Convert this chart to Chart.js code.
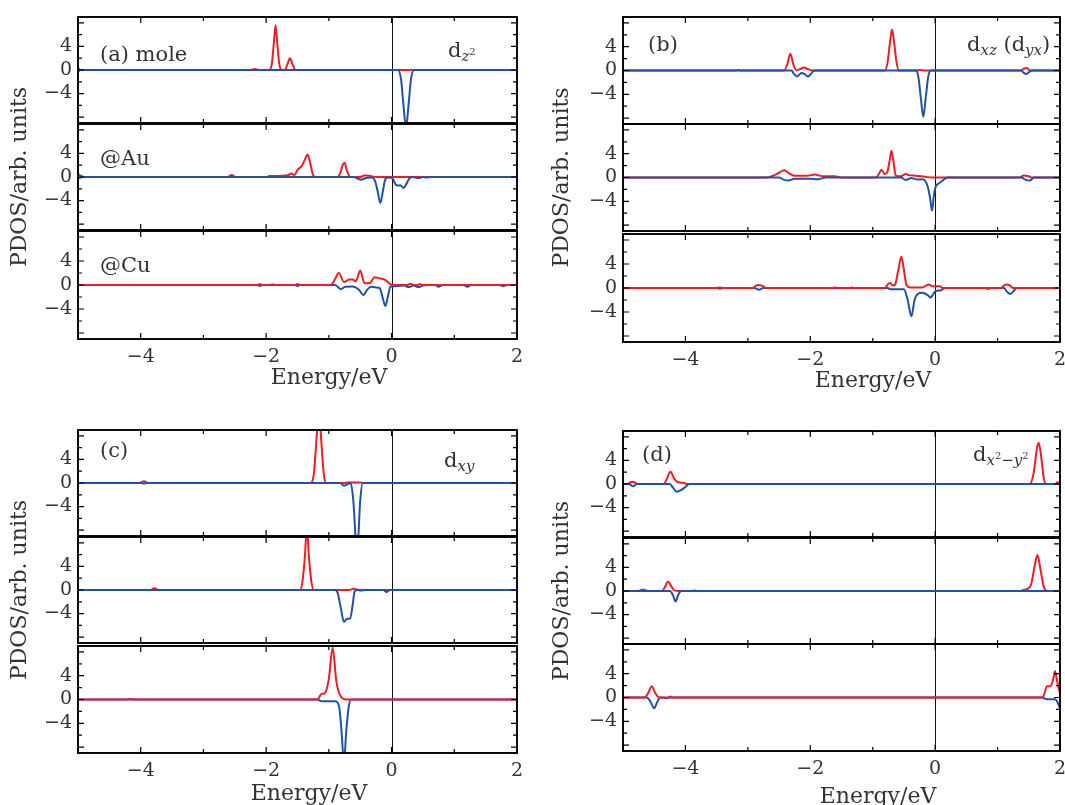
<!DOCTYPE html>
<html>
<head>
<meta charset="utf-8">
<title>PDOS</title>
<script src="https://cdn.jsdelivr.net/npm/chart.js@4.4.1/dist/chart.umd.min.js"></script>
<style>
  body { margin: 0; width: 1065px; height: 805px; overflow: hidden; background: #fff; position: relative; }
  canvas { position: absolute; }
</style>
</head>
<body>
<script>
const energyTicks = [-4, -2, 0, 2];
const pdosTicks = [-4, 0, 4];
const panelTags = ['(a) mole', '(b)', '(c)', '(d)'];
const siteLabels = ['', '@Au', '@Cu'];
// orbital names as [text, style] pieces: r roman, s italic subscript, sr roman subscript, ss superscript in subscript
const orbitalLabels = [
  [['d', 'r'], ['z', 's'], ['2', 'ss']],
  [['d', 'r'], ['xz', 's'], [' (d', 'r'], ['yx', 's'], [')', 'r']],
  [['d', 'r'], ['xy', 's']],
  [['d', 'r'], ['x', 's'], ['2', 'ss'], ['\u2212', 'sr'], ['y', 's'], ['2', 'ss']]
];

// [energy eV, PDOS]; Up = red, Dn = blue
// (a) d_z2
const aMoleUp = [[-5,0.4],[-4.96,0],[-2.25,0],[-2.18,0.15],[-2.12,0],[-1.95,0],[-1.91,1.0],[-1.88,4.2],[-1.85,7.6],[-1.82,4.2],[-1.79,1.0],[-1.75,0],[-1.70,0],[-1.66,1.0],[-1.62,2.0],[-1.58,1.0],[-1.53,0],[2,0]];
const aMoleDn = [[-5,-0.3],[-4.96,0],[0.10,0],[0.15,-1.5],[0.19,-6],[0.23,-9.8],[0.27,-6],[0.31,-1.5],[0.36,0],[2,0]];
const aAuUp = [[-5,0.5],[-4.95,0.2],[-4.9,0],[-2.62,0],[-2.55,0.35],[-2.48,0],[-2.0,0],[-1.95,0.15],[-1.75,0.2],[-1.65,0.3],[-1.6,0.6],[-1.55,0.3],[-1.5,1.2],[-1.43,1.9],[-1.38,3.0],[-1.34,3.8],[-1.30,2.5],[-1.25,0.3],[-1.2,0],[-0.86,0],[-0.82,0.6],[-0.78,2.0],[-0.75,2.4],[-0.71,1.0],[-0.66,0],[-0.5,0],[-0.43,0.25],[-0.35,0.2],[-0.25,0],[2,0]];
const aAuDn = [[-5,-0.2],[-4.92,0],[-0.6,0],[-0.54,-0.3],[-0.48,-0.45],[-0.42,-0.2],[-0.32,-0.1],[-0.27,-0.5],[-0.22,-2.5],[-0.18,-4.4],[-0.14,-2.5],[-0.10,-0.4],[-0.05,-0.1],[0.02,-0.3],[0.06,-1.2],[0.1,-1.45],[0.14,-1.4],[0.19,-1.85],[0.23,-1.3],[0.28,-0.3],[0.33,0],[0.43,-0.2],[0.5,0],[0.56,-0.1],[0.62,0],[2,0]];
const aCuUp = [[-5,0],[-2.15,0],[-2.1,0.15],[-2.05,0],[-1.95,0],[-1.9,0.1],[-1.85,0],[-1.55,0],[-1.5,0.15],[-1.45,0],[-0.97,0],[-0.92,0.6],[-0.84,2.0],[-0.76,0.5],[-0.67,0.9],[-0.62,0.9],[-0.57,0.6],[-0.50,2.4],[-0.43,0.3],[-0.35,0.3],[-0.27,1.3],[-0.19,1.1],[-0.11,0.9],[-0.05,0.4],[0,0],[0.25,0],[0.3,0.2],[0.35,0],[0.42,0],[0.45,0.15],[0.5,0],[2,0]];
const aCuDn = [[-5,0],[-2.15,0],[-2.1,-0.15],[-2.05,0],[-1.55,0],[-1.5,-0.15],[-1.45,0],[-0.9,0],[-0.85,-0.4],[-0.81,-0.7],[-0.74,-0.3],[-0.62,-0.25],[-0.52,-0.8],[-0.45,-1.7],[-0.39,-0.8],[-0.33,-0.3],[-0.25,-0.4],[-0.19,-0.5],[-0.14,-2.2],[-0.10,-3.5],[-0.06,-2.0],[-0.02,-0.3],[0.03,-0.2],[0.2,-0.1],[0.27,-0.35],[0.35,-0.1],[0.43,-0.35],[0.5,-0.1],[0.6,0],[0.7,0],[0.75,-0.3],[0.82,0],[1.15,0],[1.21,-0.3],[1.27,0],[1.72,0],[1.78,-0.2],[1.84,0],[2,0]];
// (b) d_xz (d_yx)
const bMoleUp = [[-5,0],[-3.2,0],[-3.15,0.1],[-3.1,0],[-2.42,0],[-2.37,1.0],[-2.32,2.8],[-2.27,1.0],[-2.22,0],[-2.15,0.3],[-2.1,0.5],[-2.05,0.3],[-1.98,0],[-0.80,0],[-0.76,1.5],[-0.72,5.0],[-0.69,6.9],[-0.66,5.0],[-0.62,1.5],[-0.58,0],[-0.3,0],[-0.25,0.1],[-0.15,0],[1.38,0],[1.42,0.3],[1.47,0.4],[1.52,0],[2,0]];
const bMoleDn = [[-5,0],[-2.3,0],[-2.26,-0.6],[-2.21,-1.0],[-2.14,-0.4],[-2.09,-0.6],[-2.04,-1.0],[-1.99,-0.6],[-1.94,0],[-0.30,0],[-0.27,-1.0],[-0.23,-4.5],[-0.19,-7.8],[-0.15,-4.5],[-0.11,-1.0],[-0.07,0],[1.38,0],[1.42,-0.4],[1.46,-0.6],[1.5,-0.3],[1.55,0],[2,0]];
const bAuUp = [[-5,0],[-2.7,0],[-2.6,0.3],[-2.5,0.8],[-2.42,1.2],[-2.34,0.7],[-2.26,0.3],[-2.05,0.3],[-1.93,0.5],[-1.8,0.2],[-1.61,0.2],[-1.5,0],[-0.95,0],[-0.9,0.6],[-0.86,1.3],[-0.81,0.6],[-0.77,0.8],[-0.73,2.8],[-0.70,4.5],[-0.67,2.8],[-0.63,0.3],[-0.55,0.2],[-0.47,0.6],[-0.42,0.4],[-0.31,0.3],[-0.15,0.1],[-0.05,0],[1.35,0],[1.42,0.35],[1.5,0.2],[1.55,0],[2,0]];
const bAuDn = [[-5,0],[-2.5,0],[-2.42,-0.4],[-2.35,-0.5],[-2.25,-0.2],[-2.0,-0.2],[-1.88,-0.3],[-1.75,0],[-0.55,0],[-0.47,-0.4],[-0.38,-0.1],[-0.28,-0.35],[-0.2,-0.3],[-0.12,-1.5],[-0.08,-3.5],[-0.05,-5.6],[-0.02,-3.0],[0.01,-1.5],[0.06,-1.0],[0.12,-0.5],[0.2,0],[1.38,0],[1.45,-0.4],[1.52,-0.5],[1.58,0],[2,0]];
const bCuUp = [[-5,0],[-3.5,0],[-3.45,0.1],[-3.4,0],[-2.92,0],[-2.87,0.4],[-2.82,0.5],[-2.76,0.3],[-2.7,0],[-1.65,0],[-1.61,0.1],[-1.55,0],[-1.38,0],[-1.34,0.1],[-1.3,0],[-0.8,0],[-0.76,0.6],[-0.72,0.85],[-0.68,0.4],[-0.64,0.6],[-0.59,3.0],[-0.54,5.2],[-0.50,3.0],[-0.46,0.5],[-0.4,0.1],[-0.2,0.1],[-0.14,0.45],[-0.10,0.6],[-0.05,0.3],[0.02,0.3],[0.07,0.3],[0.12,0],[1.05,0],[1.1,0.4],[1.15,0.6],[1.2,0.4],[1.25,0],[2,0]];
const bCuDn = [[-5,0],[-3.5,0],[-3.45,-0.1],[-3.4,0],[-2.9,0],[-2.82,-0.3],[-2.75,0],[-0.76,0],[-0.72,-0.2],[-0.5,-0.2],[-0.44,-2.0],[-0.38,-4.7],[-0.33,-2.0],[-0.28,-1.0],[-0.2,-0.8],[-0.12,-1.2],[-0.07,-1.6],[-0.03,-1.0],[0.01,-0.5],[0.09,-0.4],[0.15,0],[0.8,0],[0.85,-0.15],[0.9,0],[1.1,0],[1.15,-0.6],[1.2,-1.0],[1.26,-0.5],[1.3,0],[2,0]];
// (c) d_xy
const cMoleUp = [[-5,0],[-4.02,0],[-3.95,0.3],[-3.88,0],[-1.29,0],[-1.24,1.5],[-1.20,7],[-1.16,13],[-1.12,7],[-1.08,1.5],[-1.04,0],[-0.75,0],[-0.7,0.1],[-0.5,0.1],[-0.45,0],[2,0]];
const cMoleDn = [[-5,0],[-4.0,0],[-3.95,-0.1],[-3.9,0],[-0.82,0],[-0.76,-0.45],[-0.70,-0.2],[-0.65,0],[-0.61,-3],[-0.55,-12],[-0.50,-3],[-0.46,0],[2,0]];
const cAuUp = [[-5,0],[-3.84,0],[-3.78,0.3],[-3.72,0],[-1.46,0],[-1.42,1.5],[-1.38,6],[-1.35,11],[-1.32,6],[-1.28,1.5],[-1.24,0],[-0.68,0],[-0.6,0.2],[-0.52,0],[2,0]];
const cAuDn = [[-5,0],[-0.9,0],[-0.86,-0.5],[-0.81,-3.0],[-0.76,-5.4],[-0.71,-4.9],[-0.66,-4.8],[-0.62,-2.5],[-0.59,-0.3],[-0.55,0],[-0.48,-0.1],[-0.42,0],[-0.13,0],[-0.08,-0.35],[-0.03,0],[2,0]];
const cCuUp = [[-5,0],[-4.24,0],[-4.18,0.1],[-4.12,0],[-1.18,0],[-1.12,0.9],[-1.06,1.1],[-1.0,3.5],[-0.94,8.7],[-0.88,3.0],[-0.81,0.5],[-0.72,0],[2,0]];
const cCuDn = [[-5,0],[-1.18,0],[-1.12,-0.3],[-0.9,-0.3],[-0.84,-1.0],[-0.80,-5],[-0.76,-10.5],[-0.72,-5],[-0.68,-1.0],[-0.64,0],[2,0]];
// (d) d_x2-y2
const dMoleUp = [[-5,0],[-4.92,0],[-4.88,0.3],[-4.84,0.4],[-4.8,0.2],[-4.76,0],[-4.35,0],[-4.3,0.8],[-4.24,2.1],[-4.18,0.9],[-4.12,0.3],[-4.03,0.2],[-3.98,0],[1.52,0],[1.58,2.0],[1.63,6.0],[1.66,7.0],[1.70,4.5],[1.74,1.0],[1.78,0],[1.93,0],[1.96,0.3],[2,0]];
const dMoleDn = [[-5,0],[-4.9,0],[-4.84,-0.4],[-4.78,0],[-4.25,0],[-4.2,-0.6],[-4.14,-1.3],[-4.08,-1.1],[-4.0,-0.5],[-3.94,0],[2,0]];
const dAuUp = [[-5,0],[-4.75,0],[-4.68,0.25],[-4.6,0],[-4.38,0],[-4.33,0.6],[-4.28,1.6],[-4.22,0.7],[-4.18,0.1],[-4.1,0],[-3.9,0],[-3.86,0.1],[-3.82,0],[1.35,0],[1.42,0.2],[1.49,0.4],[1.54,1.2],[1.59,4.0],[1.64,6.1],[1.69,3.5],[1.74,0.7],[1.8,0],[2,0]];
const dAuDn = [[-5,0],[-4.25,0],[-4.2,-0.7],[-4.16,-1.8],[-4.12,-0.8],[-4.07,0],[2,0]];
const dCuUp = [[-5,0],[-4.66,0],[-4.6,0.7],[-4.54,1.9],[-4.48,0.7],[-4.42,0],[-4.28,0],[-4.24,0.15],[-4.2,0],[1.72,0],[1.76,1.0],[1.79,1.9],[1.85,1.9],[1.89,3.0],[1.92,4.4],[1.95,3.0],[1.98,1.5],[2,0.8]];
const dCuDn = [[-5,0],[-4.62,0],[-4.56,-0.7],[-4.5,-1.8],[-4.45,-0.7],[-4.4,0],[-4.3,-0.1],[-4.25,0],[1.72,0],[1.76,-0.2],[1.85,-0.3],[1.92,-0.3],[1.96,-0.8],[2,-1.8]];

const series = [
  [[aMoleUp, aMoleDn], [aAuUp, aAuDn], [aCuUp, aCuDn]],
  [[bMoleUp, bMoleDn], [bAuUp, bAuDn], [bCuUp, bCuDn]],
  [[cMoleUp, cMoleDn], [cAuUp, cAuDn], [cCuUp, cCuDn]],
  [[dMoleUp, dMoleDn], [dAuUp, dAuDn], [dCuUp, dCuDn]]
];

const RED = '#ee1d23';
const BLUE = '#2152a6';
const INK = '#333';
const FONT = 'DejaVu Serif';

// page placement of each panel (pixels)
const panels = [
  { cx: 0,   left: 78,  right: 517,  rows: [[17, 123], [124, 230], [231, 339]], axisH: 52, tag: [100, 61], orb: [448, 57], xTitle: [329, 378], sites: [null, [100, 165], [100, 272]] },
  { cx: 542, left: 623, right: 1060, rows: [[17, 124], [124, 231], [234, 342]], axisH: 52, tag: [648, 51], orb: [967, 51], xTitle: [873, 381] },
  { cx: 0,   left: 78,  right: 517,  rows: [[430, 536], [537, 643], [646, 753]], axisH: 54, tag: [100, 457], orb: [444, 467], xTitle: [309, 794] },
  { cx: 542, left: 623, right: 1060, rows: [[431, 537], [538, 644], [644, 751]], axisH: 59, tag: [642, 461], orb: [973, 461], xTitle: [878, 797] }
];

const pieceStyle = {
  r:  { size: 21, dy: 0, italic: false },
  s:  { size: 15, dy: 4, italic: true },
  sr: { size: 15, dy: 4, italic: false },
  ss: { size: 10, dy: -2, italic: false }
};

function drawPieces(ctx, pieces, x, y) {
  ctx.textBaseline = 'alphabetic';
  ctx.textAlign = 'left';
  ctx.fillStyle = INK;
  for (const [t, k] of pieces) {
    const st = pieceStyle[k];
    ctx.font = (st.italic ? 'italic ' : '') + st.size + 'px "' + FONT + '"';
    ctx.fillText(t, x, y + st.dy);
    x += ctx.measureText(t).width;
  }
}

const minus = v => (v < 0 ? '\u2212' + Math.abs(v) : String(v));

const framePlugin = {
  id: 'frame',
  beforeDatasetsDraw(chart) {
    const { ctx, chartArea: a, scales: { x } } = chart;
    const px = Math.round(x.getPixelForValue(0)) + 0.5;
    ctx.save();
    ctx.strokeStyle = '#111';
    ctx.lineWidth = 1;
    ctx.beginPath();
    ctx.moveTo(px, a.top);
    ctx.lineTo(px, a.bottom);
    ctx.stroke();
    ctx.restore();
  },
  afterDraw(chart, args, opts) {
    const { ctx, chartArea: a, scales: { x, y } } = chart;
    ctx.save();
    ctx.strokeStyle = '#000';
    ctx.lineWidth = 1.2;
    ctx.beginPath();
    for (let e = -5; e <= 2; e++) {
      const px = x.getPixelForValue(e);
      const len = e % 2 === 0 ? 6 : 4;
      ctx.moveTo(px, a.bottom); ctx.lineTo(px, a.bottom - len);
      ctx.moveTo(px, a.top); ctx.lineTo(px, a.top + len);
    }
    for (let v = -8; v <= 8; v += 2) {
      const py = y.getPixelForValue(v);
      const len = v % 4 === 0 ? 6 : 4;
      ctx.moveTo(a.left, py); ctx.lineTo(a.left + len, py);
      ctx.moveTo(a.right, py); ctx.lineTo(a.right - len, py);
    }
    ctx.stroke();
    ctx.lineWidth = 1.9;
    ctx.strokeRect(a.left, a.top, a.right - a.left, a.bottom - a.top);
    for (const n of opts.notes || []) drawPieces(ctx, n.pieces, n.x, n.y);
    if (opts.xTitle) {
      ctx.font = '22px "' + FONT + '"';
      ctx.fillStyle = INK;
      ctx.textAlign = 'center';
      ctx.textBaseline = 'middle';
      ctx.fillText(opts.xTitle.text, opts.xTitle.x, opts.xTitle.y);
    }
    ctx.restore();
  }
};

function makePlot(pi, ri) {
  const p = panels[pi];
  const [top, bottom] = p.rows[ri];
  const last = ri === 2;
  // the middle canvas is taller so its long y title is not cut off
  const padTop = ri === 1 ? 90 : 6;
  const padBottom = ri === 1 ? 90 : 4;
  const padRight = 20;
  const axisH = last ? p.axisH : 0;
  const w = p.right - p.cx + padRight;
  const h = padTop + (bottom - top) + axisH + padBottom;
  const oy = top - padTop;
  const cv = document.createElement('canvas');
  cv.width = w;
  cv.height = h;
  cv.style.left = p.cx + 'px';
  cv.style.top = oy + 'px';
  document.body.appendChild(cv);

  const notes = [];
  if (ri === 0) {
    notes.push({ pieces: [[panelTags[pi], 'r']], x: p.tag[0] - p.cx, y: p.tag[1] - oy });
    notes.push({ pieces: orbitalLabels[pi], x: p.orb[0] - p.cx, y: p.orb[1] - oy });
  }
  if (p.sites && p.sites[ri]) notes.push({ pieces: [[siteLabels[ri], 'r']], x: p.sites[ri][0] - p.cx, y: p.sites[ri][1] - oy });
  const xTitle = last ? { text: 'Energy/eV', x: p.xTitle[0] - p.cx, y: p.xTitle[1] - oy } : null;

  const [up, dn] = series[pi][ri];
  const line = (pts, color) => ({
    data: pts.map(([e, v]) => ({ x: e, y: v })),
    borderColor: color,
    borderWidth: 2,
    pointRadius: 0,
    cubicInterpolationMode: 'monotone',
    fill: false
  });
  // first dataset is painted on top
  const datasets = ri === 2 ? [line(up, RED), line(dn, BLUE)] : [line(dn, BLUE), line(up, RED)];

  new Chart(cv, {
    type: 'line',
    data: { datasets },
    options: {
      responsive: false,
      animation: false,
      events: [],
      layout: { padding: { left: 0, top: padTop, right: padRight, bottom: padBottom } },
      plugins: { legend: { display: false }, tooltip: { enabled: false }, frame: { notes, xTitle } },
      scales: {
        x: {
          type: 'linear', min: -5, max: 2, display: last,
          grid: { display: false, drawTicks: false }, border: { display: false },
          afterBuildTicks: s => { s.ticks = energyTicks.map(v => ({ value: v })); },
          afterFit: s => { s.height = axisH; s.paddingLeft = 0; s.paddingRight = 0; },
          ticks: { padding: 7, color: INK, font: { family: FONT, size: 19 }, callback: minus, maxRotation: 0 }
        },
        y: {
          type: 'linear', min: -9, max: 9,
          grid: { display: false, drawTicks: false }, border: { display: false },
          afterBuildTicks: s => { s.ticks = pdosTicks.map(v => ({ value: v })); },
          afterFit: s => { s.width = p.left - p.cx; s.paddingTop = 0; s.paddingBottom = 0; },
          ticks: { padding: 6, color: INK, font: { family: FONT, size: 19 }, callback: minus },
          title: { display: ri === 1, text: 'PDOS/arb. units', color: INK, font: { family: FONT, size: 22 }, padding: { top: 7, bottom: 0 } }
        }
      }
    },
    plugins: [framePlugin]
  });
}

for (let pi = 0; pi < 4; pi++) {
  for (let ri = 0; ri < 3; ri++) makePlot(pi, ri);
}
</script>
</body>
</html>
